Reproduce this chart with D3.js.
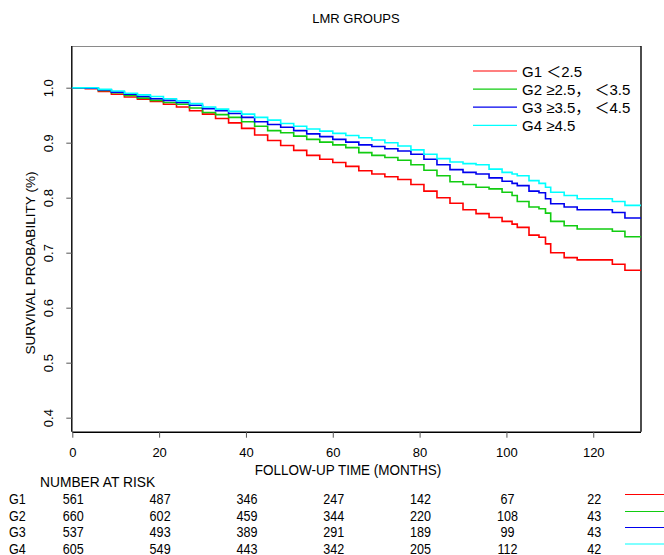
<!DOCTYPE html>
<html>
<head>
<meta charset="utf-8">
<script src="https://cdn.jsdelivr.net/npm/d3@7"></script>
<style>
  body { margin: 0; background: #fff; }
  text { font-family: "Liberation Sans", Arial, sans-serif; fill: #000; }
</style>
</head>
<body>
<div class="km-container"></div>
<script>
var width = 664, height = 555;

// follow-up times (months) where the curves step
var times = [0, 3, 6, 9, 12, 15, 18, 21, 24, 27, 30, 33, 36, 39, 42, 45, 48, 51, 54, 57, 60,
  63, 66, 69, 72, 75, 78, 81, 84, 87, 90, 93, 96, 99, 101.3, 102.5, 105.2, 107.5, 109, 110.2,
  113.3, 116.3, 124.4, 127.3];
var maxTime = 131;

// survival probability per group
var g1Surv = [1.0, 0.998, 0.993, 0.988, 0.983, 0.979, 0.975, 0.970, 0.965, 0.958, 0.952, 0.944, 0.936,
  0.926, 0.914, 0.904, 0.895, 0.886, 0.877, 0.870, 0.864, 0.857, 0.849, 0.843, 0.838, 0.833, 0.824,
  0.812, 0.800, 0.790, 0.778, 0.771, 0.764, 0.757, 0.752, 0.746, 0.732, 0.728, 0.716, 0.700, 0.691,
  0.687, 0.679, 0.668];
var g2Surv = [1.0, 0.999, 0.995, 0.991, 0.986, 0.981, 0.977, 0.973, 0.970, 0.963, 0.955, 0.951, 0.946,
  0.938, 0.930, 0.922, 0.918, 0.912, 0.906, 0.901, 0.896, 0.891, 0.882, 0.877, 0.873, 0.868, 0.860,
  0.850, 0.840, 0.829, 0.824, 0.819, 0.816, 0.810, 0.804, 0.793, 0.783, 0.780, 0.772, 0.757, 0.749,
  0.743, 0.739, 0.729];
var g3Surv = [1.0, 0.999, 0.996, 0.992, 0.988, 0.984, 0.980, 0.977, 0.973, 0.968, 0.962, 0.958, 0.953,
  0.946, 0.938, 0.933, 0.928, 0.922, 0.916, 0.911, 0.906, 0.901, 0.896, 0.893, 0.889, 0.885, 0.879,
  0.870, 0.860, 0.851, 0.846, 0.843, 0.836, 0.830, 0.826, 0.822, 0.812, 0.809, 0.798, 0.789, 0.783,
  0.778, 0.773, 0.763];
var g4Surv = [1.0, 1.0, 0.997, 0.994, 0.990, 0.987, 0.984, 0.980, 0.976, 0.971, 0.965, 0.961, 0.957,
  0.952, 0.946, 0.941, 0.935, 0.930, 0.925, 0.921, 0.917, 0.913, 0.909, 0.905, 0.900, 0.894, 0.887,
  0.879, 0.871, 0.865, 0.862, 0.860, 0.852, 0.846, 0.843, 0.840, 0.831, 0.826, 0.819, 0.810, 0.804,
  0.798, 0.793, 0.786];

var groupNames = ["G1", "G2", "G3", "G4"];
var legendLabels = ["G1 \uFF1C2.5", "G2 \u22652.5\uFF0C \uFF1C3.5", "G3 \u22653.5\uFF0C \uFF1C4.5", "G4 \u22654.5"];
var groupColors = ["#ff0000", "#11cc11", "#0000ee", "#00ffff"];

// number at risk table
var riskTimes = [0, 20, 40, 60, 80, 100, 120];
var g1Risk = [561, 487, 346, 247, 142, 67, 22];
var g2Risk = [660, 602, 459, 344, 220, 108, 43];
var g3Risk = [537, 493, 389, 291, 189, 99, 43];
var g4Risk = [605, 549, 443, 342, 205, 112, 42];

var xTicks = [0, 20, 40, 60, 80, 100, 120];
var yTicks = [0.4, 0.5, 0.6, 0.7, 0.8, 0.9, 1.0];

var survs = [g1Surv, g2Surv, g3Surv, g4Surv];
var risks = [g1Risk, g2Risk, g3Risk, g4Risk];

// plot box (window.top is read-only, so avoid "top")
var plotL = 72.3, plotR = 641, plotT = 46, plotB = 431.7;

var x = d3.scaleLinear().domain([0, maxTime]).range([plotL, plotR]);
var y = d3.scaleLinear().domain([0.3745, 1.0758]).range([plotB, plotT]);

var svg = d3.select(".km-container").append("svg")
  .attr("width", width).attr("height", height);

// condensed text like the narrow font of the reference
function narrowText(px, py, str, size, anchor, sx) {
  return svg.append("text")
    .attr("transform", "translate(" + px + "," + py + ") scale(" + (sx || 0.84) + ",1)")
    .attr("text-anchor", anchor || "start")
    .style("font-size", size + "px")
    .text(str);
}

// title
svg.append("text").attr("x", 356).attr("y", 23).attr("text-anchor", "middle")
  .style("font-size", "13px").text("LMR GROUPS");

// frame: top grey, right black
svg.append("line").attr("x1", plotL).attr("x2", plotR).attr("y1", plotT + 0.5).attr("y2", plotT + 0.5)
  .style("stroke", "#8a8a8a").style("stroke-width", 1.2);
svg.append("line").attr("x1", plotR).attr("x2", plotR).attr("y1", plotT).attr("y2", plotB)
  .style("stroke", "#000").style("stroke-width", 1.4);

// axes
var xAxis = d3.axisBottom(x).tickValues(xTicks).tickSize(6).tickSizeOuter(0).tickFormat(d3.format("d"));
var gx = svg.append("g").attr("transform", "translate(0," + plotB + ")").call(xAxis);
gx.select(".domain").attr("d", "M" + plotL + ",0.5H" + plotR).style("stroke", "#000").style("stroke-width", 1.4);
gx.selectAll(".tick line").style("stroke", "#555");
gx.selectAll(".tick text").attr("y", 16).style("font-size", "13px")
  .style("font-family", "'Liberation Sans', Arial, sans-serif");

var yAxis = d3.axisLeft(y).tickValues(yTicks).tickSize(6).tickSizeOuter(0).tickFormat(d3.format(".1f"));
var gy = svg.append("g").attr("transform", "translate(" + plotL + ",0)").call(yAxis);
gy.select(".domain").attr("d", "M-0.5," + plotT + "V" + plotB).style("stroke", "#000").style("stroke-width", 1.4);
gy.selectAll(".tick line").style("stroke", "#555");
gy.selectAll(".tick text")
  .attr("x", null).attr("dy", null)
  .attr("text-anchor", "middle")
  .attr("transform", "translate(-19,0) rotate(-90)")
  .attr("y", 0)
  .style("font-size", "13px")
  .style("font-family", "'Liberation Sans', Arial, sans-serif");

// axis titles
svg.append("text").attr("transform", "translate(35,263) rotate(-90)").attr("text-anchor", "middle")
  .style("font-size", "13.6px").text("SURVIVAL PROBABILITY (%)");
narrowText(348, 475, "FOLLOW-UP TIME (MONTHS)", 15, "middle", 0.9);

// survival curves
var line = d3.line()
  .x(function(d) { return x(d[0]); })
  .y(function(d) { return y(d[1]); })
  .curve(d3.curveStepAfter);

survs.forEach(function(s, i) {
  var pts = times.map(function(t, j) { return [t, s[j]]; });
  pts.push([maxTime, s[s.length - 1]]);
  svg.append("path").datum(pts)
    .attr("d", line)
    .style("fill", "none")
    .style("stroke", groupColors[i])
    .style("stroke-width", 1.6);
});

// legend
var legend = svg.append("g").attr("class", "legend");
legendLabels.forEach(function(lab, i) {
  var ly = 71 + i * 18.1;
  legend.append("line").attr("x1", 473).attr("x2", 517).attr("y1", ly).attr("y2", ly)
    .style("stroke", groupColors[i]).style("stroke-width", 1.2);
  legend.append("text").attr("x", 522).attr("y", ly + 5.5)
    .style("font-size", "15px")
    .style("font-family", "'Liberation Sans', 'Noto Sans CJK SC', Arial, sans-serif")
    .text(lab);
});

// number at risk
narrowText(40, 487, "NUMBER AT RISK", 15, "start", 0.92);

var rowY = [499, 516, 532, 548.5];
risks.forEach(function(r, i) {
  narrowText(9, rowY[i] + 5, groupNames[i], 15);
  riskTimes.forEach(function(t, j) {
    narrowText(x(t) + 1, rowY[i] + 5, r[j], 15, "middle");
  });
  svg.append("line").attr("x1", 625).attr("x2", 664).attr("y1", rowY[i] - 4.5).attr("y2", rowY[i] - 4.5)
    .style("stroke", groupColors[i]).style("stroke-width", 1);
});
</script>
</body>
</html>
